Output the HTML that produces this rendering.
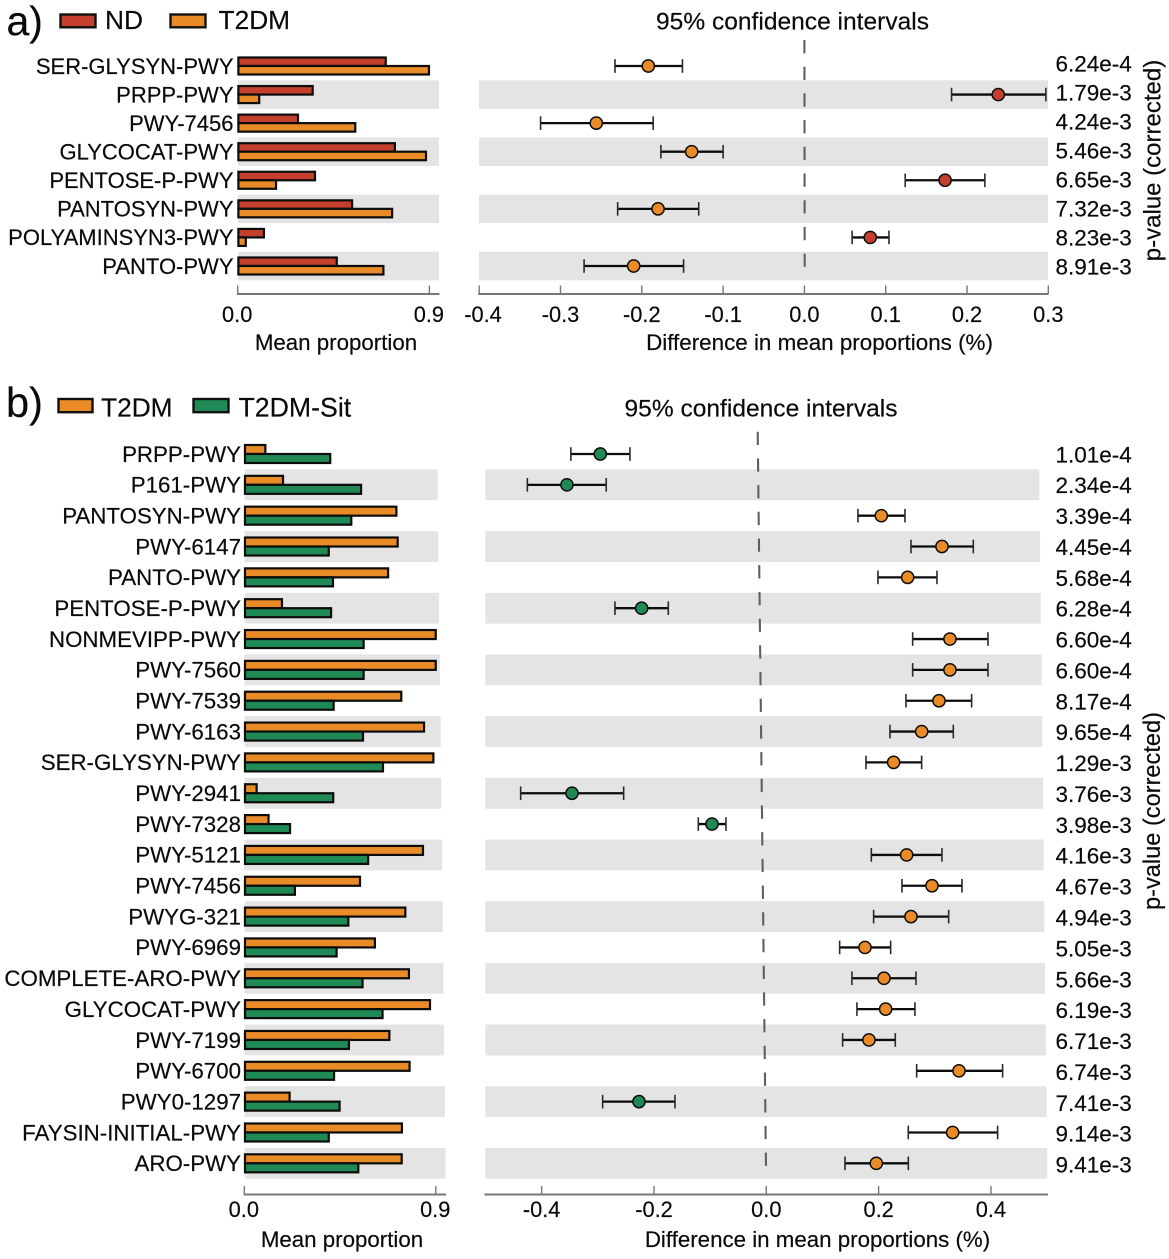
<!DOCTYPE html>
<html lang="en">
<head>
<meta charset="utf-8">
<title>Pathway abundance differences with 95% confidence intervals</title>
<style>
  html, body { margin: 0; padding: 0; background: #fff; }
  svg { display: block; font-family: "Liberation Sans", Arial, sans-serif; }
  text { fill: #0a0a0a; stroke: #0a0a0a; stroke-width: 0.18px; }
</style>
</head>
<body>
<svg id="chart" xmlns="http://www.w3.org/2000/svg" width="1169" height="1259" viewBox="0 0 1169 1259">
  <rect x="0" y="0" width="1169" height="1259" fill="#ffffff"></rect>

  <g id="panel-a"></g>
  <g id="panel-b"></g>

  <text x="6.5" y="35" font-size="41">a)</text>
  <rect x="60.5" y="14.5" width="35" height="12.8" fill="#c43f2c" stroke="#111" stroke-width="2.4"></rect>
  <text x="105" y="29" font-size="26.3">ND</text>
  <rect x="170.5" y="14.5" width="35" height="12.8" fill="#e98c28" stroke="#111" stroke-width="2.4"></rect>
  <text x="218.5" y="29" font-size="26.3">T2DM</text>
  <text x="792.5" y="29.5" font-size="24" text-anchor="middle" textLength="273" lengthAdjust="spacingAndGlyphs">95% confidence intervals</text>
  <text x="336" y="350" font-size="22.3" text-anchor="middle">Mean proportion</text>
  <text x="819.5" y="350" font-size="22.4" text-anchor="middle">Difference in mean proportions (%)</text>
  <text transform="translate(1160.5,160.5) rotate(-90)" font-size="24" text-anchor="middle">p-value (corrected)</text>

  <text x="6" y="417" font-size="41.5">b)</text>
  <rect x="58.5" y="399" width="34" height="13.2" fill="#e98c28" stroke="#111" stroke-width="2.4"></rect>
  <text x="101" y="416.5" font-size="26.3">T2DM</text>
  <rect x="193.5" y="399" width="35" height="13.2" fill="#1f8a55" stroke="#111" stroke-width="2.4"></rect>
  <text x="238.5" y="416.5" font-size="26.7">T2DM-Sit</text>
  <text x="761" y="416.5" font-size="24" text-anchor="middle" textLength="273" lengthAdjust="spacingAndGlyphs">95% confidence intervals</text>
  <text x="342" y="1247" font-size="22.3" text-anchor="middle">Mean proportion</text>
  <text x="817.5" y="1247" font-size="22.3" text-anchor="middle">Difference in mean proportions (%)</text>
  <text transform="translate(1160,811) rotate(-90)" font-size="23.6" text-anchor="middle">p-value (corrected)</text>
</svg>

<script>
// ---- Panel a data ----
const aCategories = ['SER-GLYSYN-PWY','PRPP-PWY','PWY-7456','GLYCOCAT-PWY','PENTOSE-P-PWY','PANTOSYN-PWY','POLYAMINSYN3-PWY','PANTO-PWY'];
const aNdValues = [0.695,0.352,0.283,0.738,0.363,0.537,0.123,0.465];
const aT2dmValues = [0.898,0.101,0.552,0.884,0.180,0.725,0.038,0.684];
const aDiffLow = [-0.233,0.181,-0.3245,-0.1765,0.124,-0.2297,0.0587,-0.271];
const aDiffMean = [-0.192,0.2385,-0.256,-0.1387,0.173,-0.180,0.081,-0.210];
const aDiffHigh = [-0.150,0.297,-0.186,-0.100,0.222,-0.130,0.104,-0.1486];
const aPValues = ['6.24e-4','1.79e-3','4.24e-3','5.46e-3','6.65e-3','7.32e-3','8.23e-3','8.91e-3'];
const aBarTicks = [0,0.9];
const aDiffTicks = [-0.4,-0.3,-0.2,-0.1,0,0.1,0.2,0.3];

// ---- Panel b data ----
const bCategories = ['PRPP-PWY','P161-PWY','PANTOSYN-PWY','PWY-6147','PANTO-PWY','PENTOSE-P-PWY','NONMEVIPP-PWY','PWY-7560','PWY-7539','PWY-6163','SER-GLYSYN-PWY','PWY-2941','PWY-7328','PWY-5121','PWY-7456','PWYG-321','PWY-6969','COMPLETE-ARO-PWY','GLYCOCAT-PWY','PWY-7199','PWY-6700','PWY0-1297','FAYSIN-INITIAL-PWY','ARO-PWY'];
const bT2dmValues = [0.099,0.182,0.715,0.721,0.676,0.177,0.900,0.900,0.738,0.845,0.889,0.058,0.114,0.840,0.544,0.757,0.614,0.774,0.873,0.682,0.777,0.213,0.741,0.740];
const bSitValues = [0.404,0.549,0.503,0.397,0.417,0.408,0.561,0.561,0.420,0.558,0.652,0.418,0.215,0.582,0.238,0.489,0.434,0.556,0.650,0.492,0.422,0.448,0.397,0.536];
const bDiffLow = [-0.348,-0.4255,0.1632,0.2576,0.1988,-0.2695,0.2606,0.2606,0.2487,0.2202,0.1775,-0.4374,-0.1211,0.187,0.2416,0.1911,0.1306,0.1525,0.1614,0.1359,0.2677,-0.2914,0.2528,0.1401];
const bDiffMean = [-0.2956,-0.355,0.2048,0.3128,0.2517,-0.222,0.327,0.327,0.3075,0.2766,0.2267,-0.346,-0.0967,0.2499,0.295,0.2576,0.1757,0.2095,0.2125,0.1828,0.3431,-0.2267,0.3318,0.1959];
const bDiffHigh = [-0.2428,-0.285,0.2469,0.3686,0.3039,-0.1745,0.3947,0.3947,0.3656,0.333,0.2766,-0.254,-0.0718,0.3128,0.3484,0.3247,0.2214,0.2665,0.2647,0.2297,0.4208,-0.1626,0.4119,0.2529];
const bPValues = ['1.01e-4','2.34e-4','3.39e-4','4.45e-4','5.68e-4','6.28e-4','6.60e-4','6.60e-4','8.17e-4','9.65e-4','1.29e-3','3.76e-3','3.98e-3','4.16e-3','4.67e-3','4.94e-3','5.05e-3','5.66e-3','6.19e-3','6.71e-3','6.74e-3','7.41e-3','9.14e-3','9.41e-3'];
const bBarTicks = [0,0.9];
const bDiffTicks = [-0.4,-0.2,0,0.2,0.4];

const NS = 'http://www.w3.org/2000/svg';
const RED = '#c43f2c', ORANGE = '#e98c28', GREEN = '#1f8a55';
const INK = '#0c0c0c', AXIS = '#777777', STRIPE = '#e4e4e4';

function mk(parent, tag, attrs, txt) {
  const el = document.createElementNS(NS, tag);
  for (const k in attrs) el.setAttribute(k, attrs[k]);
  if (txt !== undefined) el.textContent = txt;
  parent.appendChild(el);
  return el;
}

function drawPanel(root, p) {
  const barX = v => p.barZero + v * p.barUnit;
  const diffX = v => p.diffZero + v * p.diffUnit;
  const rowY = i => p.firstRow + i * p.rowStep;
  const prefix = p.id + '-';
  let el;

  // alternating row stripes
  p.categories.forEach((name, i) => {
    if (i % 2 === 1) {
      el = mk(root, 'rect', { x: p.barZero + 0.3, y: rowY(i) - p.rowStep / 2, width: p.barStripeEnd + i * p.stripeDrift - p.barZero, height: p.rowStep, fill: STRIPE });
      
      
      el = mk(root, 'rect', { x: p.diffLeft, y: rowY(i) - p.rowStep / 2, width: p.diffStripeEnd + i * p.stripeDrift - p.diffLeft, height: p.rowStep, fill: STRIPE });
      
      
    }
  });

  // zero reference line
  el = mk(root, 'line', { x1: p.dashTop, y1: p.dashY1, x2: p.dashBottom, y2: p.dashY2, stroke: '#5f5f5f', 'stroke-width': 2.1, 'stroke-dasharray': '13.3 13.4' });
  
  

  // rows
  p.categories.forEach((name, i) => {
    const y = rowY(i);

    el = mk(root, 'text', { x: p.labelX, y: y + 7.8, 'font-size': p.labelSize, 'text-anchor': 'end' }, name);
    
    

    el = mk(root, 'rect', { x: barX(0) + 0.7, y: y - p.barH, width: Math.max(0, barX(p.seriesA[i]) - barX(0) - 0.7), height: p.barH, fill: p.colorA, stroke: INK, 'stroke-width': 2.2 });
    
    

    el = mk(root, 'rect', { x: barX(0) + 0.7, y: y, width: Math.max(0, barX(p.seriesB[i]) - barX(0) - 0.7), height: p.barH, fill: p.colorB, stroke: INK, 'stroke-width': 2.2 });
    
    

    el = mk(root, 'line', { x1: diffX(p.low[i]), y1: y, x2: diffX(p.high[i]), y2: y, stroke: INK, 'stroke-width': 2.3 });
    
    

    el = mk(root, 'line', { x1: diffX(p.low[i]), y1: y - 6.8, x2: diffX(p.low[i]), y2: y + 6.8, stroke: '#2a2a2a', 'stroke-width': 1.6 });
    
    

    el = mk(root, 'line', { x1: diffX(p.high[i]), y1: y - 6.8, x2: diffX(p.high[i]), y2: y + 6.8, stroke: '#2a2a2a', 'stroke-width': 1.6 });
    
    

    el = mk(root, 'circle', { cx: diffX(p.mean[i]), cy: y, r: 6.1, fill: (p.mean[i] < 0 ? p.colorNeg : p.colorPos), stroke: INK, 'stroke-width': 1.5 });
    
    

    el = mk(root, 'text', { x: 1055.5, y: p.pFirst + i * p.pStep + 8, 'font-size': 22.5 }, p.pvals[i]);
    
    
  });

  // bar axis
  el = mk(root, 'line', { x1: p.barZero - 0.7, y1: p.axisY, x2: p.barAxisEnd, y2: p.axisY, stroke: AXIS, 'stroke-width': 2 });
  
  
  p.barTicks.forEach(t => {
    el = mk(root, 'line', { x1: barX(t), y1: p.axisY - 8.5, x2: barX(t), y2: p.axisY, stroke: AXIS, 'stroke-width': 1.4 });
    
    
    el = mk(root, 'text', { x: barX(t) - 0.5, y: p.tickBaseline, 'font-size': 21.8, 'text-anchor': 'middle' }, t.toFixed(1));
    
    
  });

  // difference axis
  el = mk(root, 'line', { x1: p.diffLeft - 0.8, y1: p.axisY, x2: p.diffRight, y2: p.axisY, stroke: AXIS, 'stroke-width': 2 });
  
  
  p.diffTicks.forEach(t => {
    el = mk(root, 'line', { x1: diffX(t), y1: p.axisY - 8.5, x2: diffX(t), y2: p.axisY, stroke: AXIS, 'stroke-width': 1.4 });
    
    
    el = mk(root, 'text', { x: Math.max(diffX(t), p.diffLabelMin), y: p.tickBaseline, 'font-size': 21.8, 'text-anchor': 'middle' }, t.toFixed(1));
    
    
  });
}

drawPanel(document.getElementById('panel-a'), {
  id: 'panel-a', categories: aCategories, pvals: aPValues,
  seriesA: aNdValues, seriesB: aT2dmValues, nameA: 'nd', nameB: 't2dm',
  colorA: RED, colorB: ORANGE, colorNeg: ORANGE, colorPos: RED,
  low: aDiffLow, mean: aDiffMean, high: aDiffHigh,
  barTicks: aBarTicks, diffTicks: aDiffTicks,
  barZero: 237.7, barUnit: 213, diffZero: 804.4, diffUnit: 813,
  firstRow: 66, rowStep: 28.57, barH: 8.5,
  labelX: 233.5, labelSize: 22, pFirst: 63.5, pStep: 29,
  barStripeEnd: 438.7, diffStripeEnd: 1048, stripeDrift: 0, diffLeft: 479, diffRight: 1048.5,
  barAxisEnd: 439.5, axisY: 294, tickBaseline: 322, diffLabelMin: 483,
  dashTop: 804.4, dashBottom: 804.7, dashY1: 40, dashY2: 270
});

drawPanel(document.getElementById('panel-b'), {
  id: 'panel-b', categories: bCategories, pvals: bPValues,
  seriesA: bT2dmValues, seriesB: bSitValues, nameA: 't2dm', nameB: 't2dm-sit',
  colorA: ORANGE, colorB: GREEN, colorNeg: GREEN, colorPos: ORANGE,
  low: bDiffLow, mean: bDiffMean, high: bDiffHigh,
  barTicks: bBarTicks, diffTicks: bDiffTicks,
  barZero: 244.3, barUnit: 212.7, diffZero: 766.3, diffUnit: 561.6,
  firstRow: 454, rowStep: 30.84, barH: 9,
  labelX: 241, labelSize: 22.3, pFirst: 454.3, pStep: 30.88,
  barStripeEnd: 437, diffStripeEnd: 1039, stripeDrift: 0.36, diffLeft: 485.3, diffRight: 1048,
  barAxisEnd: 446, axisY: 1194.5, tickBaseline: 1217, diffLabelMin: 0,
  dashTop: 757.7, dashBottom: 766, dashY1: 431.7, dashY2: 1168
});
</script>
</body>
</html>
